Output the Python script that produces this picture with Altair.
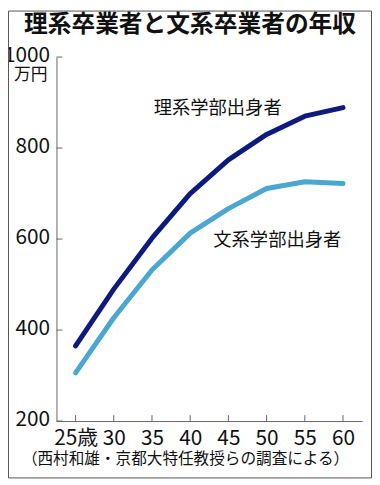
import altair as alt
import pandas as pd

title_text = "理系卒業者と文系卒業者の年収"
source_text = "（西村和雄・京都大特任教授らの調査による）"
unit_text = "万円"

ages = [25, 30, 35, 40, 45, 50, 55, 60]
age_labels = ["25歳", "30", "35", "40", "45", "50", "55", "60"]
science = [365, 490, 602, 700, 774, 830, 870, 889]
humanities = [306, 427, 532, 613, 667, 711, 726, 722]
series_names = ["理系学部出身者", "文系学部出身者"]
series_colors = ["#0e1a7e", "#4aa7d0"]
y_ticks = [200, 400, 600, 800, 1000]

# label anchor points in data units (age, income)
label_age = [43.6, 51.4]
label_income = [887, 598]

num_font = "Liberation Sans Narrow, Noto Sans CJK JP"
cjk_font = "Noto Sans CJK JP"
axis_color = "#666666"

df = pd.DataFrame({
    "age": ages * 2,
    "income": science + humanities,
    "series": [series_names[0]] * len(ages) + [series_names[1]] * len(ages),
})

label_expr = " : ".join(
    [f"datum.value == {a} ? '{l}'" for a, l in zip(ages, age_labels)] + ["datum.label"]
)

xscale = alt.Scale(domain=[22.5, 62.5], nice=False, zero=False)
yscale = alt.Scale(domain=[200, 1000], nice=False, zero=False)

xaxis = alt.Axis(
    values=ages, labelExpr=label_expr, format="d", tickSize=0, ticks=False, grid=False, title=None,
    labelFont=num_font, labelFontSize=21, labelPadding=7, labelColor="#111111",
    labelFlush=False, labelOverlap=False, domainColor=axis_color, domainWidth=1)
yaxis = alt.Axis(
    values=y_ticks, format="d", tickSize=0, ticks=False, grid=False, title=None,
    labelFont=num_font, labelFontSize=21, labelPadding=7, labelColor="#111111",
    labelFlush=False, labelOverlap=False, labelOffset=-2,
    domainColor=axis_color, domainWidth=1)

X = lambda: alt.X("age:Q", scale=xscale, axis=xaxis)
Y = lambda: alt.Y("income:Q", scale=yscale, axis=yaxis)

lines = alt.Chart(df).mark_line(strokeWidth=5, strokeCap="round", strokeJoin="round").encode(
    x=X(), y=Y(),
    color=alt.Color("series:N", scale=alt.Scale(domain=series_names, range=series_colors), legend=None),
    detail="series:N",
)

xticks = alt.Chart(pd.DataFrame({"age": ages})).mark_rule(color=axis_color, strokeWidth=1).encode(
    x=X(), y=alt.value(362), y2=alt.value(368),
)

yticks = alt.Chart(pd.DataFrame({"income": y_ticks})).mark_rule(color=axis_color, strokeWidth=1).encode(
    y=Y(), x=alt.value(0), x2=alt.value(6),
)

labels = alt.Chart(pd.DataFrame({
    "age": label_age, "income": label_income, "t": series_names,
})).mark_text(font=cjk_font, fontSize=18.5, color="#111111", align="center", baseline="middle").encode(
    x=X(), y=Y(), text="t:N",
)

title = alt.Chart(pd.DataFrame({"t": [title_text]})).mark_text(
    font=cjk_font, fontSize=24, fontWeight="bold", color="#111111", align="center", baseline="middle"
).encode(text="t:N", x=alt.value(135), y=alt.value(-32))

unit = alt.Chart(pd.DataFrame({"t": [unit_text]})).mark_text(
    font=cjk_font, fontSize=17, color="#111111", align="right", baseline="middle"
).encode(text="t:N", x=alt.value(-9), y=alt.value(18.5))

source = alt.Chart(pd.DataFrame({"t": [source_text]})).mark_text(
    font=cjk_font, fontSize=15.8, color="#111111", align="center", baseline="middle"
).encode(text="t:N", x=alt.value(130.5), y=alt.value(406))

frame = alt.Chart(pd.DataFrame({"t": [0]})).mark_rect(
    fillOpacity=0, stroke="#555555", strokeWidth=1
).encode(x=alt.value(-48.5), x2=alt.value(318.5), y=alt.value(-46.5), y2=alt.value(425.5))

chart = alt.layer(lines, xticks, yticks, labels, title, unit, source, frame).properties(
    width=309, height=368,
    autosize=alt.AutoSizeParams(type="none"),
    padding={"left": 49, "top": 47, "right": 10, "bottom": 58},
    background="white",
).configure_view(stroke=None)

chart.save("out.html", embed_options={"renderer": "svg", "actions": False})
